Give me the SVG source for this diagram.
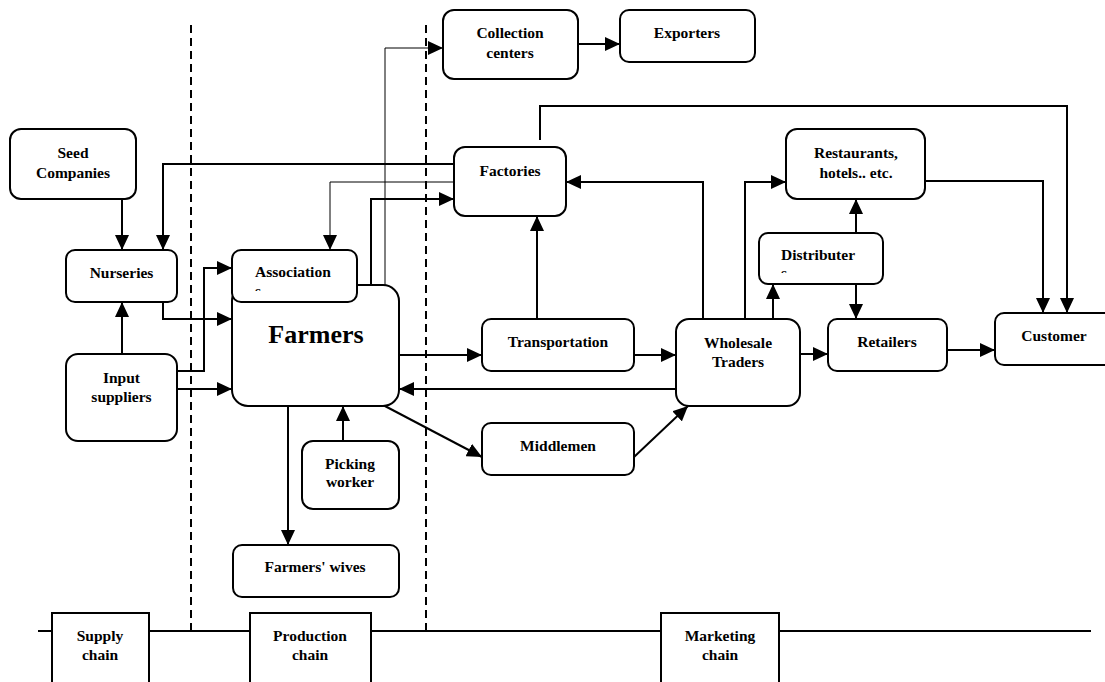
<svg xmlns="http://www.w3.org/2000/svg" width="1105" height="682" viewBox="0 0 1105 682">
  <style>
    .box { fill: #fff; stroke: #000; stroke-width: 2; }
    .lbl { font-family: "Liberation Serif", "Times New Roman", serif; font-weight: bold; font-size: 15.5px; fill: #000; text-anchor: middle; }
    .lbl-left { text-anchor: start; }
    .big { font-size: 26px; }
    .wire { fill: none; stroke: #000; stroke-width: 2; }
    .thin { stroke-width: 1; }
    .arrow { marker-end: url(#head); }
    .divider { fill: none; stroke: #000; stroke-width: 2; stroke-dasharray: 8 5; }
  </style>
  <defs>
    <marker id="head" markerUnits="userSpaceOnUse" markerWidth="15" markerHeight="14" refX="15" refY="7" orient="auto">
      <path d="M0,0 L15,7 L0,14 z" fill="#000"/>
    </marker>
    <clipPath id="assocWrap"><rect x="240" y="255" width="110" height="36"/></clipPath>
    <clipPath id="distWrap"><rect x="765" y="238" width="110" height="35"/></clipPath>
  </defs>

  <rect width="1105" height="682" fill="#fff"/>

  <!-- chain dividers -->
  <g id="dividers">
    <line class="divider" x1="191" y1="25" x2="191" y2="631"/>
    <line class="divider" x1="426" y1="25" x2="426" y2="631"/>
  </g>

  <!-- timeline with chain labels -->
  <g id="timeline">
    <line x1="38" y1="631" x2="1091" y2="631" stroke="#000" stroke-width="2"/>
  </g>
  <g id="supply-chain">
    <rect class="box" x="52" y="613" width="97" height="80"/>
    <text class="lbl" x="100" y="641">Supply</text>
    <text class="lbl" x="100" y="660">chain</text>
  </g>
  <g id="production-chain">
    <rect class="box" x="250" y="613" width="121" height="80"/>
    <text class="lbl" x="310" y="641">Production</text>
    <text class="lbl" x="310" y="660">chain</text>
  </g>
  <g id="marketing-chain">
    <rect class="box" x="661" y="613" width="118" height="80"/>
    <text class="lbl" x="720" y="641">Marketing</text>
    <text class="lbl" x="720" y="660">chain</text>
  </g>

  <!-- connectors -->
  <g id="connectors">
    <path class="wire arrow" d="M122,199 V250"/>
    <path class="wire arrow" d="M454,164 H163 V250"/>
    <path class="wire arrow" d="M122,354 V302"/>
    <path class="wire arrow" d="M163,302 V319 H232"/>
    <path class="wire arrow" d="M177,371 H204 V268 H232"/>
    <path class="wire arrow" d="M177,389 H232"/>
    <path class="wire thin arrow" d="M454,182 H330 V250"/>
    <path class="wire arrow" d="M371,285 V199 H454"/>
    <path class="wire thin arrow" d="M385,285 V48 H443"/>
    <path class="wire arrow" d="M578,44 H620"/>
    <path class="wire arrow" d="M399,355 H482"/>
    <path class="wire arrow" d="M634,355 H676"/>
    <path class="wire arrow" d="M676,389 H399"/>
    <path class="wire arrow" d="M383,405 L482,457"/>
    <path class="wire arrow" d="M634,457 L688,406"/>
    <path class="wire arrow" d="M537,319 V216"/>
    <path class="wire arrow" d="M703,319 V182 H566"/>
    <path class="wire arrow" d="M745,319 V182 H786"/>
    <path class="wire arrow" d="M773,319 V284"/>
    <path class="wire arrow" d="M856,233 V199"/>
    <path class="wire arrow" d="M856,284 V319"/>
    <path class="wire arrow" d="M800,354 H828"/>
    <path class="wire arrow" d="M947,350 H995"/>
    <path class="wire arrow" d="M925,181 H1043 V313"/>
    <path class="wire arrow" d="M540,140 V106 H1067 V313"/>
    <path class="wire arrow" d="M288,406 V545"/>
    <path class="wire arrow" d="M343,441 V406"/>
  </g>

  <!-- nodes -->
  <g id="seed-companies">
    <rect class="box" x="10" y="129" width="126" height="70" rx="11"/>
    <text class="lbl" x="73" y="158">Seed</text>
    <text class="lbl" x="73" y="178">Companies</text>
  </g>
  <g id="nurseries">
    <rect class="box" x="66" y="250" width="111" height="52" rx="9"/>
    <text class="lbl" x="121.5" y="278">Nurseries</text>
  </g>
  <g id="input-suppliers">
    <rect class="box" x="66" y="354" width="111" height="87" rx="12"/>
    <text class="lbl" x="121.5" y="383">Input</text>
    <text class="lbl" x="121.5" y="402">suppliers</text>
  </g>
  <g id="farmers">
    <rect class="box" x="232" y="285" width="167" height="121" rx="16"/>
    <text class="lbl big" x="316" y="343">Farmers</text>
  </g>
  <g id="association">
    <rect class="box" x="232" y="250" width="125" height="52" rx="9"/>
    <text class="lbl lbl-left" x="255" y="277">Association</text>
    <text class="lbl lbl-left" x="255" y="296" clip-path="url(#assocWrap)">s</text>
  </g>
  <g id="picking-worker">
    <rect class="box" x="302" y="441" width="97" height="68" rx="11"/>
    <text class="lbl" x="350" y="469">Picking</text>
    <text class="lbl" x="350" y="487">worker</text>
  </g>
  <g id="farmers-wives">
    <rect class="box" x="233" y="545" width="166" height="52" rx="9"/>
    <text class="lbl" x="315" y="572">Farmers' wives</text>
  </g>
  <g id="collection-centers">
    <rect class="box" x="443" y="10" width="135" height="69" rx="11"/>
    <text class="lbl" x="510" y="38">Collection</text>
    <text class="lbl" x="510" y="58">centers</text>
  </g>
  <g id="exporters">
    <rect class="box" x="620" y="10" width="135" height="52" rx="9"/>
    <text class="lbl" x="687" y="38">Exporters</text>
  </g>
  <g id="factories">
    <rect class="box" x="454" y="147" width="112" height="69" rx="11"/>
    <text class="lbl" x="510" y="176">Factories</text>
  </g>
  <g id="transportation">
    <rect class="box" x="482" y="319" width="152" height="52" rx="9"/>
    <text class="lbl" x="558" y="347">Transportation</text>
  </g>
  <g id="middlemen">
    <rect class="box" x="482" y="423" width="152" height="52" rx="9"/>
    <text class="lbl" x="558" y="451">Middlemen</text>
  </g>
  <g id="wholesale-traders">
    <rect class="box" x="676" y="319" width="124" height="87" rx="13"/>
    <text class="lbl" x="738" y="348">Wholesale</text>
    <text class="lbl" x="738" y="367">Traders</text>
  </g>
  <g id="restaurants">
    <rect class="box" x="786" y="129" width="139" height="70" rx="11"/>
    <text class="lbl" x="856" y="158">Restaurants,</text>
    <text class="lbl" x="856" y="178">hotels.. etc.</text>
  </g>
  <g id="distributer">
    <rect class="box" x="759" y="233" width="124" height="51" rx="9"/>
    <text class="lbl lbl-left" x="781" y="260">Distributer</text>
    <text class="lbl lbl-left" x="781" y="278" clip-path="url(#distWrap)">s</text>
  </g>
  <g id="retailers">
    <rect class="box" x="828" y="319" width="119" height="52" rx="9"/>
    <text class="lbl" x="887" y="347">Retailers</text>
  </g>
  <g id="customer">
    <rect class="box" x="995" y="313" width="125" height="52" rx="9"/>
    <text class="lbl" x="1054" y="341">Customer</text>
  </g>
</svg>
